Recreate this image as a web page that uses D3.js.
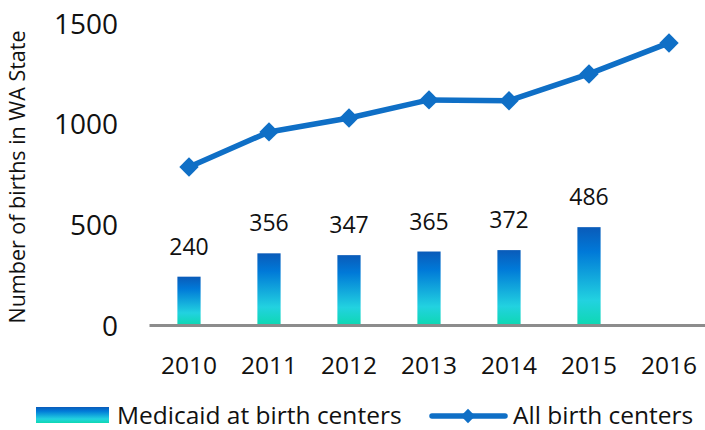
<!DOCTYPE html>
<html>
<head>
<meta charset="utf-8">
<script src="https://cdn.jsdelivr.net/npm/d3@7"></script>
<style>
  body { margin: 0; background: #fff; }
  svg { display: block; font-family: "Open Sans", "Noto Sans", sans-serif; }
</style>
</head>
<body>
<svg id="chart" width="705" height="430"></svg>
<script>
  // Years on the x axis
  const years = ["2010", "2011", "2012", "2013", "2014", "2015", "2016"];

  // Medicaid births at birth centers (no value for 2016)
  const medicaidBirths = [240, 356, 347, 365, 372, 486, null];

  // All birth centers
  const allBirths = [785, 959, 1028, 1118, 1114, 1247, 1401];

  const yTicks = [0, 500, 1000, 1500];

  const svg = d3.select("#chart");

  const x = d3.scaleBand().domain(years).range([149, 709]).paddingInner(0.71).paddingOuter(0.355);
  const y = d3.scaleLinear().domain([0, 1500]).range([325, 23]);

  // bar gradient
  const defs = svg.append("defs");
  const grad = defs.append("linearGradient")
    .attr("id", "barGrad")
    .attr("x1", 0).attr("y1", 0).attr("x2", 0).attr("y2", 1);
  grad.append("stop").attr("offset", "0%").attr("stop-color", "#0a5bb9");
  grad.append("stop").attr("offset", "25%").attr("stop-color", "#0079d8");
  grad.append("stop").attr("offset", "75%").attr("stop-color", "#22d2e0");
  grad.append("stop").attr("offset", "100%").attr("stop-color", "#0ed8b2");

  // y axis labels (no line)
  const yAxis = svg.append("g")
    .attr("transform", "translate(118,0)")
    .call(d3.axisLeft(y).tickValues(yTicks).tickFormat(d3.format("d")).tickSize(0).tickPadding(0));
  yAxis.select(".domain").remove();
  yAxis.selectAll("text")
    .attr("font-family", "Open Sans, sans-serif")
    .attr("font-size", 28)
    .attr("fill", "#111")
    .attr("dy", "0.36em");

  // y title
  svg.append("text")
    .attr("transform", "translate(25,177) rotate(-90)")
    .attr("text-anchor", "middle")
    .attr("font-size", 21.5)
    .attr("fill", "#111")
    .text("Number of births in WA State");

  // bars
  const barData = years.map((yr, i) => ({ year: yr, value: medicaidBirths[i] })).filter(d => d.value != null);

  svg.append("g").selectAll("rect")
    .data(barData)
    .join("rect")
    .attr("x", d => x(d.year))
    .attr("y", d => y(d.value))
    .attr("width", x.bandwidth())
    .attr("height", d => y(0) - y(d.value))
    .attr("fill", "url(#barGrad)");

  // bar value labels
  svg.append("g").selectAll("text")
    .data(barData)
    .join("text")
    .attr("x", d => x(d.year) + x.bandwidth() / 2)
    .attr("y", d => y(d.value) - 22)
    .attr("text-anchor", "middle")
    .attr("font-size", 23)
    .attr("fill", "#111")
    .text(d => d.value);

  // x axis
  const xAxis = svg.append("g")
    .attr("transform", `translate(0,${y(0)})`)
    .call(d3.axisBottom(x).tickSize(0).tickPadding(32));
  xAxis.select(".domain")
    .attr("stroke", "#8c8c8c")
    .attr("stroke-width", 3);
  xAxis.selectAll("text")
    .attr("font-family", "Open Sans, sans-serif")
    .attr("font-size", 24.5)
    .attr("fill", "#111");

  // line
  const lineData = years.map((yr, i) => ({ year: yr, value: allBirths[i] }));
  const cx = d => x(d.year) + x.bandwidth() / 2;

  const line = d3.line()
    .x(cx)
    .y(d => y(d.value));

  svg.append("path")
    .datum(lineData)
    .attr("fill", "none")
    .attr("stroke", "#0f6fc6")
    .attr("stroke-width", 5.5)
    .attr("stroke-linejoin", "round")
    .attr("d", line);

  const diamond = d3.symbol().type(d3.symbolDiamond2).size(240);

  svg.append("g").selectAll("path")
    .data(lineData)
    .join("path")
    .attr("transform", d => `translate(${cx(d)},${y(d.value)})`)
    .attr("d", diamond)
    .attr("fill", "#0f6fc6");

  // legend
  const legend = svg.append("g");
  legend.append("rect")
    .attr("x", 36).attr("y", 407)
    .attr("width", 73).attr("height", 16)
    .attr("fill", "url(#barGrad)");
  legend.append("text")
    .attr("x", 117).attr("y", 424)
    .attr("font-size", 24.5)
    .attr("fill", "#111")
    .text("Medicaid at birth centers");

  legend.append("line")
    .attr("x1", 432).attr("x2", 505)
    .attr("y1", 416).attr("y2", 416)
    .attr("stroke", "#0f6fc6")
    .attr("stroke-width", 5.5)
    .attr("stroke-linecap", "round");
  legend.append("path")
    .attr("transform", "translate(468,416)")
    .attr("d", d3.symbol().type(d3.symbolDiamond2).size(130))
    .attr("fill", "#0f6fc6");
  legend.append("text")
    .attr("x", 513).attr("y", 424)
    .attr("font-size", 24.5)
    .attr("fill", "#111")
    .text("All birth centers");
</script>
</body>
</html>
